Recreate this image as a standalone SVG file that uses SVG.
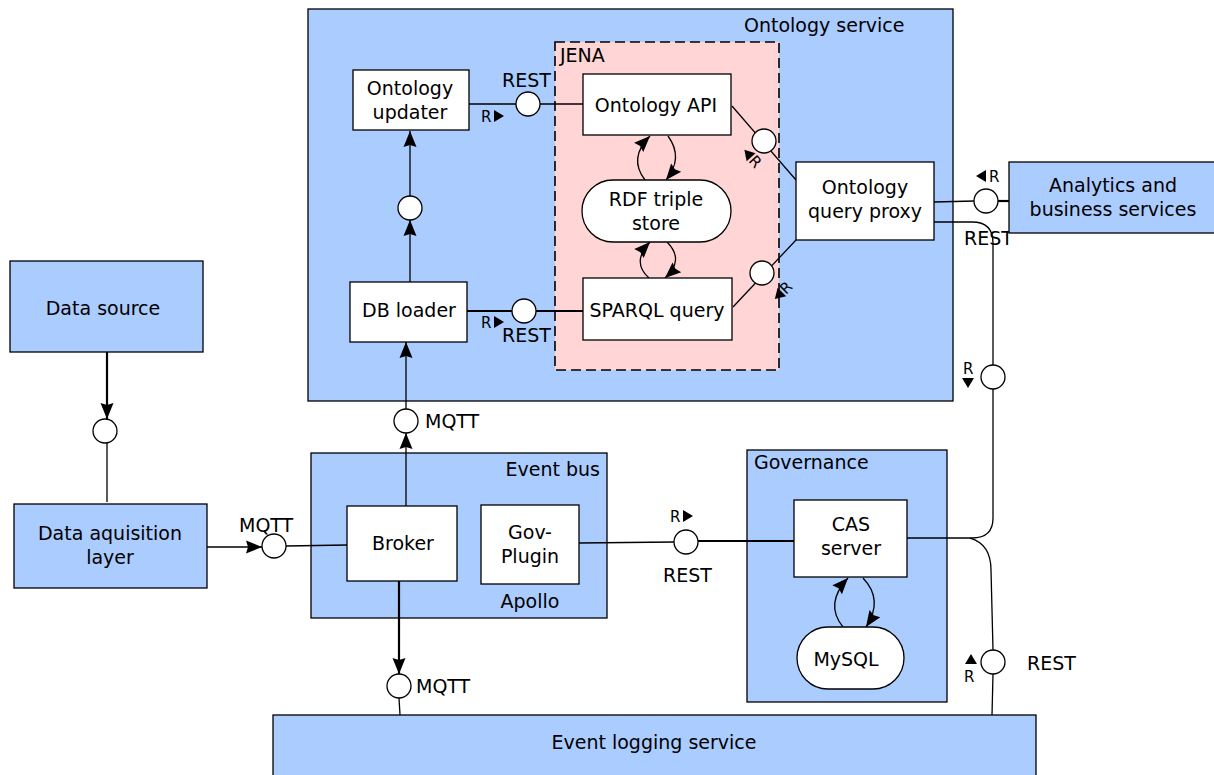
<svg xmlns="http://www.w3.org/2000/svg" width="1214" height="775" viewBox="0 0 1214 775">
  <style>
    .area { fill: #aaccff; stroke: #000; stroke-width: 1.3; }
    .box { fill: #fff; stroke: #000; stroke-width: 1.3; }
    .jena { fill: #ffd5d5; stroke: #000; stroke-width: 1.6; stroke-dasharray: 10 5; }
    .port { fill: #fff; stroke: #000; stroke-width: 1.3; }
    .ln { fill: none; stroke: #000; stroke-width: 1.3; }
    .thick { fill: none; stroke: #000; stroke-width: 2.2; }
    .arr { marker-end: url(#head); }
    text { font-family: "DejaVu Sans", "Liberation Sans", sans-serif; font-size: 19px; fill: #000; }
    .c { text-anchor: middle; }
    .e { text-anchor: end; }
    .sm { font-size: 15px; }
    .tri { fill: #000; }
  </style>
  <defs>
    <marker id="head" markerUnits="userSpaceOnUse" markerWidth="18" markerHeight="14" refX="16" refY="6.5" orient="auto" overflow="visible">
      <path d="M0,0 L16,6.5 L0,13 L2,6.5 z" fill="#000"/>
    </marker>
  </defs>

  <!-- containers -->
  <g id="ontology-service">
    <rect class="area" x="308" y="9" width="645" height="392"/>
    <text x="744" y="32">Ontology service</text>
  </g>
  <g id="jena">
    <rect class="jena" x="555" y="42" width="224" height="328"/>
    <text x="560" y="62">JENA</text>
  </g>
  <g id="event-bus">
    <rect class="area" x="311" y="453" width="296" height="165"/>
    <text class="e" x="600" y="476">Event bus</text>
    <text class="c" x="530" y="608">Apollo</text>
  </g>
  <g id="governance">
    <rect class="area" x="747" y="450" width="200" height="252"/>
    <text x="754" y="469">Governance</text>
  </g>

  <!-- connectors -->
  <g id="connectors">
    <!-- updater / API -->
    <line class="ln" x1="469" y1="104" x2="583" y2="104"/>
    <!-- DB loader / SPARQL -->
    <line class="thick" x1="467" y1="311" x2="513" y2="311"/>
    <line class="thick" x1="535" y1="311" x2="583" y2="311"/>
    <!-- API / proxy -->
    <line class="ln" x1="732" y1="106" x2="796" y2="180"/>
    <!-- SPARQL / proxy -->
    <line class="ln" x1="733" y1="307" x2="796" y2="240"/>
    <!-- DB loader up to updater -->
    <line class="ln arr" x1="410" y1="282" x2="410" y2="220"/>
    <line class="ln arr" x1="410" y1="196" x2="410" y2="131"/>
    <!-- API / RDF loops -->
    <path class="ln arr" d="M645 180 Q628 158 650 136"/>
    <path class="ln arr" d="M668 136 Q684 158 666 180"/>
    <!-- RDF / SPARQL loops -->
    <path class="ln arr" d="M649 278 Q631 262 650 242"/>
    <path class="ln arr" d="M667 242 Q685 260 665 278"/>
    <!-- CAS / MySQL loops -->
    <path class="ln arr" d="M843 627 Q824 604 848 578"/>
    <path class="ln arr" d="M863 578 Q884 600 866 627"/>
    <!-- broker up to DB loader -->
    <line class="ln arr" x1="406" y1="506" x2="406" y2="433"/>
    <line class="ln arr" x1="406" y1="409" x2="406" y2="342"/>
    <!-- data source / acquisition -->
    <line class="thick arr" x1="107" y1="352" x2="107" y2="419"/>
    <line class="ln" x1="107" y1="443" x2="107" y2="502"/>
    <!-- acquisition / broker -->
    <line class="ln arr" x1="206" y1="547" x2="262" y2="547"/>
    <line class="ln" x1="286" y1="546" x2="347" y2="545"/>
    <!-- broker / event logging -->
    <line class="thick arr" x1="399" y1="581" x2="399" y2="674"/>
    <line class="ln" x1="399" y1="698" x2="400" y2="715"/>
    <!-- Gov-Plugin / CAS -->
    <line class="ln" x1="579" y1="543" x2="674" y2="542"/>
    <line class="thick" x1="698" y1="541" x2="794" y2="541"/>
    <!-- proxy / analytics -->
    <line class="ln" x1="934" y1="202" x2="974" y2="201"/>
    <line class="thick" x1="998" y1="201" x2="1009" y2="201"/>
    <!-- proxy / CAS / event logging -->
    <path class="ln" d="M934 222 L972 222 Q993 222 993 243 L993 365"/>
    <path class="ln" d="M993 389 L993 518 Q993 538 972 538 L907 538"/>
    <path class="ln" d="M970 538 Q991 544 991 570 L993 650"/>
    <line class="ln" x1="993" y1="674" x2="992" y2="715"/>
  </g>

  <!-- ports -->
  <g id="ports">
    <circle class="port" cx="528" cy="104" r="12"/>
    <circle class="port" cx="524" cy="311" r="12"/>
    <circle class="port" cx="764" cy="141" r="12"/>
    <circle class="port" cx="762" cy="273" r="12"/>
    <circle class="port" cx="410" cy="208" r="12"/>
    <circle class="port" cx="406" cy="421" r="12"/>
    <circle class="port" cx="105" cy="431" r="12"/>
    <circle class="port" cx="274" cy="546" r="12"/>
    <circle class="port" cx="399" cy="686" r="12"/>
    <circle class="port" cx="686" cy="542" r="12"/>
    <circle class="port" cx="986" cy="201" r="12"/>
    <circle class="port" cx="993" cy="377" r="12"/>
    <circle class="port" cx="993" cy="662" r="12"/>
  </g>

  <!-- port labels -->
  <g id="port-labels">
    <text x="502" y="87">REST</text>
    <text class="sm" x="481" y="122">R</text>
    <polygon class="tri" points="494,110 504,116 494,122"/>

    <text x="502" y="342">REST</text>
    <text class="sm" x="481" y="328">R</text>
    <polygon class="tri" points="494,316 504,322 494,328"/>

    <g transform="translate(746 159) rotate(48)">
      <polygon class="tri" points="-8,-5 2,-11 2,1"/>
      <text class="sm" x="3" y="0">R</text>
    </g>
    <g transform="translate(784 297) rotate(-45)">
      <polygon class="tri" points="-8,-5 2,-11 2,1"/>
      <text class="sm" x="3" y="0">R</text>
    </g>

    <text x="425" y="428">MQTT</text>
    <text x="239" y="532">MQTT</text>
    <text x="416" y="693">MQTT</text>

    <text class="sm" x="670" y="522">R</text>
    <polygon class="tri" points="683,510 693,516 683,522"/>
    <text x="663" y="582">REST</text>

    <polygon class="tri" points="976,176 986,170 986,182"/>
    <text class="sm" x="989" y="182">R</text>
    <text x="964" y="245">REST</text>

    <text class="sm" x="963" y="374">R</text>
    <polygon class="tri" points="962,378 974,378 968,388"/>

    <polygon class="tri" points="965,664 977,664 971,654"/>
    <text class="sm" x="964" y="682">R</text>
    <text x="1027" y="670">REST</text>
  </g>

  <!-- components -->
  <g id="ontology-updater">
    <rect class="box" x="353" y="70" width="116" height="60"/>
    <text class="c" x="410" y="95">Ontology</text>
    <text class="c" x="410" y="119">updater</text>
  </g>
  <g id="ontology-api">
    <rect class="box" x="583" y="74" width="148" height="61"/>
    <text class="c" x="656" y="112">Ontology API</text>
  </g>
  <g id="rdf-store">
    <rect class="box" x="582" y="180" width="149" height="62" rx="31"/>
    <text class="c" x="656" y="206">RDF triple</text>
    <text class="c" x="656" y="230">store</text>
  </g>
  <g id="sparql-query">
    <rect class="box" x="583" y="278" width="149" height="62"/>
    <text class="c" x="657" y="317">SPARQL query</text>
  </g>
  <g id="db-loader">
    <rect class="box" x="350" y="282" width="117" height="60"/>
    <text class="c" x="409" y="317">DB loader</text>
  </g>
  <g id="query-proxy">
    <rect class="box" x="796" y="162" width="138" height="78"/>
    <text class="c" x="865" y="194">Ontology</text>
    <text class="c" x="865" y="218">query proxy</text>
  </g>
  <g id="analytics">
    <rect class="area" x="1009" y="162" width="210" height="71"/>
    <text class="c" x="1113" y="192">Analytics and</text>
    <text class="c" x="1113" y="216">business services</text>
  </g>
  <g id="data-source">
    <rect class="area" x="10" y="261" width="193" height="91"/>
    <text class="c" x="103" y="315">Data source</text>
  </g>
  <g id="data-acquisition">
    <rect class="area" x="14" y="504" width="193" height="84"/>
    <text class="c" x="110" y="540">Data aquisition</text>
    <text class="c" x="110" y="564">layer</text>
  </g>
  <g id="broker">
    <rect class="box" x="347" y="506" width="110" height="75"/>
    <text class="c" x="403" y="550">Broker</text>
  </g>
  <g id="gov-plugin">
    <rect class="box" x="481" y="505" width="98" height="79"/>
    <text class="c" x="530" y="539">Gov-</text>
    <text class="c" x="530" y="563">Plugin</text>
  </g>
  <g id="cas-server">
    <rect class="box" x="794" y="500" width="113" height="77"/>
    <text class="c" x="851" y="531">CAS</text>
    <text class="c" x="851" y="555">server</text>
  </g>
  <g id="mysql">
    <rect class="box" x="797" y="627" width="107" height="62" rx="31"/>
    <text class="c" x="846" y="666">MySQL</text>
  </g>
  <g id="event-logging">
    <rect class="area" x="273" y="715" width="763" height="70"/>
    <text class="c" x="654" y="749">Event logging service</text>
  </g>
</svg>
